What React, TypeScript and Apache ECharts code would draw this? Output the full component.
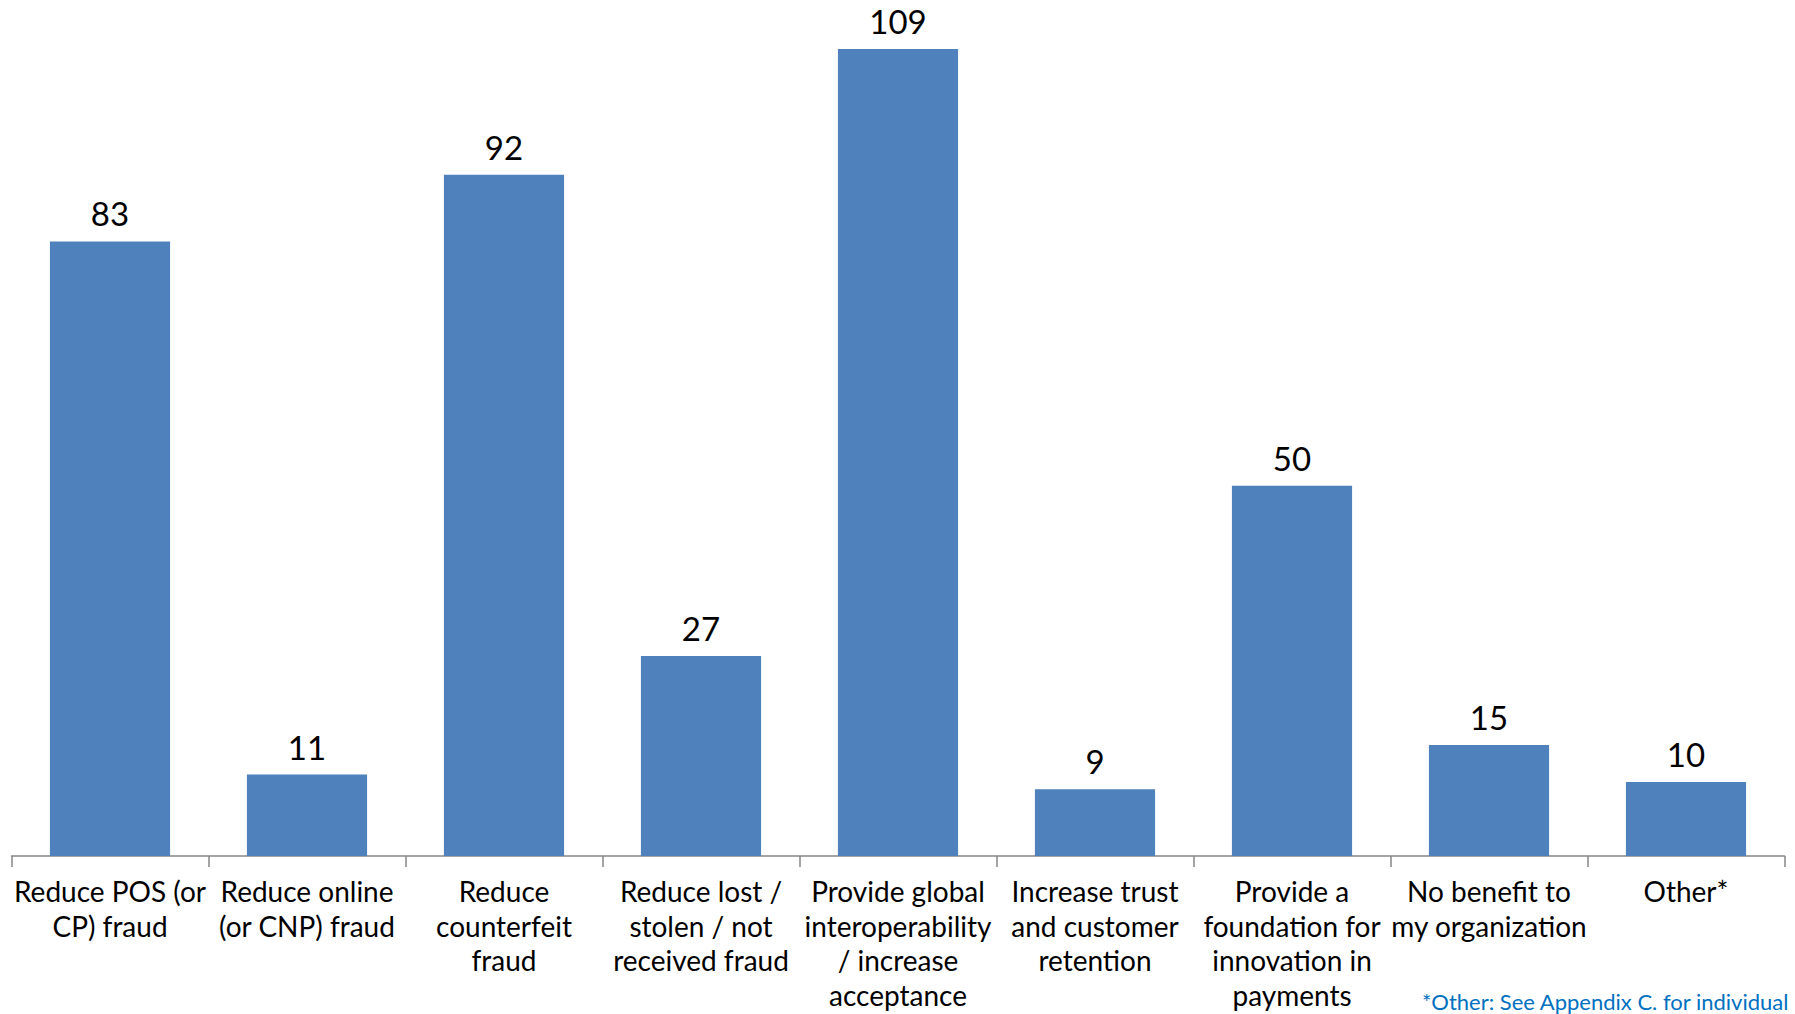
import React, { useEffect, useRef } from "react";
import * as echarts from "echarts";

const categories: string[] = [
  "Reduce POS (or\nCP) fraud",
  "Reduce online\n(or CNP) fraud",
  "Reduce\ncounterfeit\nfraud",
  "Reduce lost /\nstolen / not\nreceived fraud",
  "Provide global\ninteroperability\n/ increase\nacceptance",
  "Increase trust\nand customer\nretention",
  "Provide a\nfoundation for\ninnovation in\npayments",
  "No benefit to\nmy organization",
  "Other*",
];

const values: number[] = [83, 11, 92, 27, 109, 9, 50, 15, 10];

const footnote = "*Other: See Appendix C. for individual";

const FONT = "Lato, 'Noto Sans', sans-serif";

export default function App() {
  const ref = useRef<HTMLDivElement>(null);

  useEffect(() => {
    if (!ref.current) return;
    const chart = echarts.init(ref.current, undefined, { renderer: "svg" });
    chart.setOption({
      animation: false,
      backgroundColor: "#ffffff",
      grid: { left: 11.5, right: 10.5, top: 4.5, bottom: 158, containLabel: false },
      xAxis: {
        type: "category",
        data: categories,
        axisLine: { show: true, lineStyle: { color: "#868686", width: 1.5 } },
        axisTick: { show: true, length: 11, lineStyle: { color: "#868686", width: 1.5 } },
        axisLabel: {
          interval: 0,
          margin: 18,
          fontFamily: FONT,
          fontSize: 28,
          lineHeight: 34.5,
          color: "#000000",
          align: "center",
        },
      },
      yAxis: {
        type: "value",
        min: 0,
        max: 115,
        show: false,
        splitLine: { show: false },
      },
      series: [
        {
          type: "bar",
          data: values,
          barWidth: "61%",
          itemStyle: { color: "#4F81BD" },
          label: {
            show: true,
            position: "top",
            distance: 15,
            fontFamily: FONT,
            fontSize: 33,
            lineHeight: 26,
            color: "#000000",
          },
        },
      ],
      graphic: [
        {
          type: "text",
          left: 1422,
          top: 990,
          style: {
            text: footnote,
            fontFamily: FONT,
            fontSize: 22,
            fill: "#0070C0",
          },
        },
      ],
    });
    return () => chart.dispose();
  }, []);

  return (
    <div
      ref={ref}
      style={{ position: "fixed", left: 0, top: 0, width: 1795, height: 1014 }}
    />
  );
}
